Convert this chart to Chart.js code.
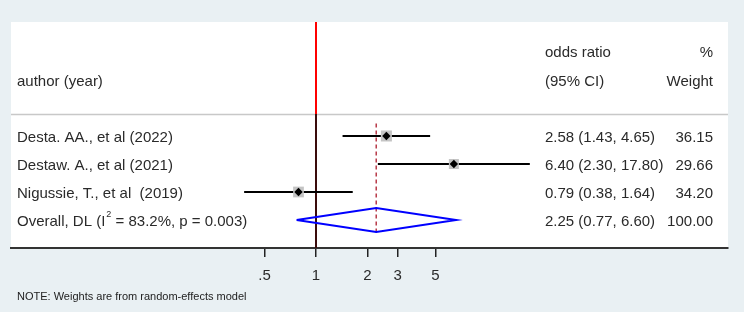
<!DOCTYPE html>
<html>
<head>
<meta charset="utf-8">
<script src="https://cdn.jsdelivr.net/npm/chart.js@4/dist/chart.umd.min.js"></script>
<style>
  html, body { margin: 0; padding: 0; background: #e9f0f3; }
  canvas { display: block; }
</style>
</head>
<body>
<canvas id="c" width="744" height="312"></canvas>
<script>
// ---- data ----
const studies = ["Desta. AA., et al (2022)", "Destaw. A., et al (2021)", "Nigussie, T., et al  (2019)"];
const oddsRatio = [2.58, 6.40, 0.79];
const ciLow = [1.43, 2.30, 0.38];
const ciHigh = [4.65, 17.80, 1.64];
const weights = [36.15, 29.66, 34.20];
const overallLabel = ["Overall, DL (I", "2", " = 83.2%, p = 0.003)"];
const overallOR = 2.25;
const overallLow = 0.77;
const overallHigh = 6.60;
const overallWeight = 100.00;
const tickValues = [0.5, 1, 2, 3, 5];
const tickLabels = [".5", "1", "2", "3", "5"];
const noteText = "NOTE: Weights are from random-effects model";

// ---- layout constants (rows on y scale) ----
const Y_MIN = -4.07, Y_MAX = 4.0, SEP = -0.786;
const rowY = studies.map((s, i) => i);
const overallRow = studies.length;
const FONT = '"Liberation Sans", Arial, sans-serif';
const TXT_DY = 1.5;

const datasets = [];
// null line
datasets.push({ type: 'line', data: [{x: 1, y: Y_MIN}, {x: 1, y: SEP}], borderColor: '#ff0000', borderWidth: 2, pointRadius: 0, order: 5 });
datasets.push({ type: 'line', data: [{x: 1, y: SEP}, {x: 1, y: Y_MAX}], borderColor: '#3a0c0c', borderWidth: 2, pointRadius: 0, order: 5 });
// overall dashed line
datasets.push({ type: 'line', data: [{x: overallOR, y: -0.45}, {x: overallOR, y: overallRow + 0.45}], borderColor: '#b83a48', borderWidth: 1.5, borderDash: [4, 3], pointRadius: 0, order: 4 });
// CI lines
studies.forEach((s, i) => {
  datasets.push({ type: 'line', data: [{x: ciLow[i], y: rowY[i]}, {x: ciHigh[i], y: rowY[i]}], borderColor: '#000', borderWidth: 2, pointRadius: 0, order: 3 });
});
// weight squares
datasets.push({ type: 'scatter', data: studies.map((s, i) => ({x: oddsRatio[i], y: rowY[i]})),
  pointStyle: 'rect', pointRadius: weights.map(w => 7.8 * Math.sqrt(w / 36.15)), backgroundColor: '#c4c4c4', borderWidth: 0, order: 2 });
// point estimate diamonds
datasets.push({ type: 'scatter', data: studies.map((s, i) => ({x: oddsRatio[i], y: rowY[i]})),
  pointStyle: 'rectRot', pointRadius: 4.2, backgroundColor: '#000', borderColor: '#000', borderWidth: 0, order: 1 });
// overall diamond
datasets.push({ type: 'line', data: [
  {x: overallLow, y: overallRow}, {x: overallOR, y: overallRow - 0.43},
  {x: overallHigh, y: overallRow}, {x: overallOR, y: overallRow + 0.43},
  {x: overallLow, y: overallRow}],
  borderColor: '#0000ff', borderWidth: 2, pointRadius: 0, fill: false, tension: 0, order: 0 });

const textPlugin = {
  id: 'forestText',
  beforeDraw(chart) {
    const {ctx, chartArea: a} = chart;
    ctx.save();
    ctx.fillStyle = '#e9f0f3';
    ctx.fillRect(0, 0, chart.width, chart.height);
    ctx.fillStyle = '#ffffff';
    ctx.fillRect(a.left, a.top, a.right - a.left, a.bottom - a.top);
    const ys = chart.scales.y;
    const sy = Math.round(ys.getPixelForValue(SEP)) + 0.5;
    ctx.strokeStyle = '#c8c8c8';
    ctx.lineWidth = 1.5;
    ctx.beginPath(); ctx.moveTo(a.left, sy); ctx.lineTo(a.right, sy); ctx.stroke();
    ctx.restore();
  },
  afterDraw(chart) {
    const {ctx, chartArea: a} = chart;
    const ys = chart.scales.y;
    ctx.save();
    ctx.fillStyle = '#2a2a2a';
    ctx.font = '15px ' + FONT;
    ctx.textBaseline = 'middle';
    const xAuthor = a.left + 6, xOR = 545, xW = 713;
    const h1 = ys.getPixelForValue(-3.03) + TXT_DY, h2 = ys.getPixelForValue(-1.97) + TXT_DY;
    ctx.textAlign = 'left';
    ctx.fillText('author (year)', xAuthor, h2);
    ctx.fillText('odds ratio', xOR, h1);
    ctx.fillText('(95% CI)', xOR, h2);
    ctx.textAlign = 'right';
    ctx.fillText('%', xW, h1);
    ctx.fillText('Weight', xW, h2);
    const fmt = v => v.toFixed(2);
    studies.forEach((s, i) => {
      const y = ys.getPixelForValue(rowY[i]) + TXT_DY;
      ctx.textAlign = 'left';
      ctx.fillText(s, xAuthor, y);
      ctx.fillText(`${fmt(oddsRatio[i])} (${fmt(ciLow[i])}, ${fmt(ciHigh[i])})`, xOR, y);
      ctx.textAlign = 'right';
      ctx.fillText(fmt(weights[i]), xW, y);
    });
    const oy = ys.getPixelForValue(overallRow) + TXT_DY;
    ctx.textAlign = 'left';
    let x = xAuthor;
    ctx.fillText(overallLabel[0], x, oy);
    x += ctx.measureText(overallLabel[0]).width + 1;
    ctx.font = '9px ' + FONT;
    ctx.fillText(overallLabel[1], x, oy - 7);
    x += ctx.measureText(overallLabel[1]).width;
    ctx.font = '15px ' + FONT;
    ctx.fillText(overallLabel[2], x, oy);
    ctx.fillText(`${fmt(overallOR)} (${fmt(overallLow)}, ${fmt(overallHigh)})`, xOR, oy);
    ctx.textAlign = 'right';
    ctx.fillText(fmt(overallWeight), xW, oy);
    // note
    ctx.textAlign = 'left';
    ctx.font = '11px ' + FONT;
    ctx.fillStyle = '#222';
    ctx.fillText(noteText, 17, 297);
    ctx.restore();
  }
};

new Chart(document.getElementById('c'), {
  type: 'scatter',
  data: { datasets },
  options: {
    responsive: false,
    animation: false,
    events: [],
    layout: { padding: { left: 11, top: 22, right: 16, bottom: 0 } },
    plugins: { legend: { display: false }, tooltip: { enabled: false } },
    scales: {
      x: {
        type: 'logarithmic',
        min: Math.pow(10, (11 - 316) / 171),
        max: Math.pow(10, (728 - 316) / 171),
        afterBuildTicks: s => { s.ticks = tickValues.map(v => ({ value: v })); },
        afterFit: s => { s.height = 64; },
        ticks: {
          autoSkip: false, maxRotation: 0, padding: 10,
          color: '#2a2a2a',
          font: { family: FONT, size: 15 },
          callback: (v) => { const i = tickValues.indexOf(v); return i >= 0 ? tickLabels[i] : ''; }
        },
        grid: { display: true, drawOnChartArea: false, drawTicks: true, tickLength: 9, color: '#222', lineWidth: 1.5 },
        border: { display: true, color: '#333', width: 2 }
      },
      y: {
        type: 'linear', reverse: true, min: Y_MIN, max: Y_MAX, display: false
      }
    }
  },
  plugins: [textPlugin]
});
</script>
</body>
</html>
